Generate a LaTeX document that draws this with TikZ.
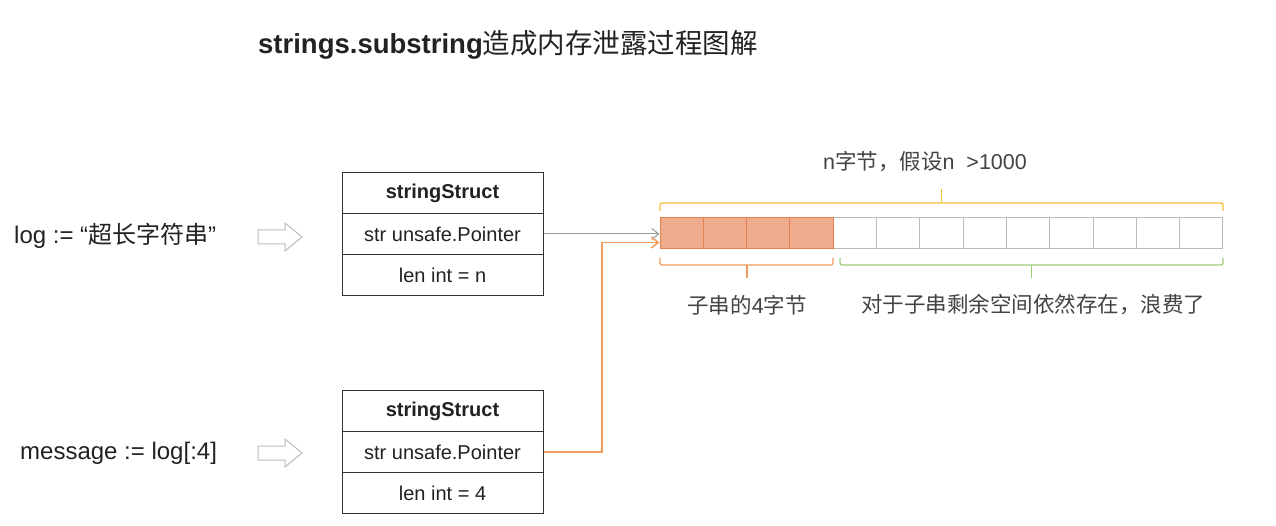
\documentclass[tikz,border=0pt]{standalone}
\usepackage{fontspec}
\setmainfont{Liberation Sans}
\newfontfamily\cjk{Noto Sans CJK SC}
\usetikzlibrary{arrows.meta}
\definecolor{boxline}{HTML}{333333}
\definecolor{txt}{HTML}{222222}
\definecolor{cellgray}{HTML}{BBBBBB}
\definecolor{cellfill}{HTML}{EDAD8C}
\definecolor{celldark}{HTML}{E3824F}
\definecolor{orangeline}{HTML}{F09C5C}
\definecolor{yellowc}{HTML}{F5C038}
\definecolor{greenc}{HTML}{A3CC7A}
\definecolor{hollow}{HTML}{BBBBBB}
\definecolor{grayarrow}{HTML}{999999}
\begin{document}
\begin{tikzpicture}[x=1pt,y=-1pt,
  rowbox/.style={draw=boxline, line width=1pt, minimum width=201pt, minimum height=41pt, inner sep=0pt, text=txt, font=\fontsize{20}{22}\selectfont},
  headbox/.style={rowbox, font=\fontsize{20}{22}\selectfont\bfseries},
  leftlabel/.style={anchor=west, inner sep=0pt, text=txt, font=\fontsize{24}{26}\selectfont},
  cellw/.style={draw=cellgray, line width=1pt, fill=white, minimum width=43.3pt, minimum height=31pt, inner sep=0pt},
  cello/.style={draw=celldark, line width=1pt, fill=cellfill, minimum width=43.3pt, minimum height=31pt, inner sep=0pt},
  bracelabel/.style={inner sep=0pt, text=txt!85, font=\fontsize{21.5}{23}\selectfont},
  hollowarrow/.style={draw=hollow, line width=1pt, fill=white},
  bracket/.style={line width=1.3pt, rounded corners=2pt},
  bracetick/.style={line width=1.5pt}
]
\useasboundingbox (0,0) rectangle (1276,526);
\fill[white] (0,0) rectangle (1276,526);

% title
\node[anchor=west, inner sep=0pt, text=txt] (title) at (258,45)
  {\fontsize{27.5}{30}\selectfont\textbf{strings.substring}{\cjk 造成内存泄露过程图解}};

% left labels
\node[leftlabel] (log) at (14,236) {log := “{\cjk 超长字符串}”};
\node[leftlabel] (msg) at (20,453) {message := log[:4]};

% hollow arrows
\draw[hollowarrow] (258,230) -- (285,230) -- (285,223) -- (302,237) -- (285,251) -- (285,244) -- (258,244) -- cycle;
\draw[hollowarrow] (258,446) -- (285,446) -- (285,439) -- (302,453) -- (285,467) -- (285,460) -- (258,460) -- cycle;

% struct boxes
\node[headbox] (s1h) at (442.5,193) {stringStruct};
\node[rowbox] (s1p) at (442.5,234) {str unsafe.Pointer};
\node[rowbox] (s1l) at (442.5,275) {len int = n};

\node[headbox] (s2h) at (442.5,411) {stringStruct};
\node[rowbox] (s2p) at (442.5,452) {str unsafe.Pointer};
\node[rowbox] (s2l) at (442.5,493) {len int = 4};

% memory cells
\foreach \i in {4,...,12} {
  \node[cellw] (c\i) at ({681.65+43.3*\i},233.5) {};
}
\foreach \i in {0,...,3} {
  \node[cello] (c\i) at ({681.65+43.3*\i},233.5) {};
}

% top bracket
\draw[bracket, yellowc] (660,211) -- (660,203) -- (1223,203) -- (1223,211);
\draw[bracetick, yellowc] (941.5,203) -- (941.5,189);
\node[bracelabel] (toplab) at (925,162) {n{\cjk 字节，假设}n\ \ >1000};

% bottom brackets
\draw[bracket, orangeline] (660,258) -- (660,265) -- (833,265) -- (833,258);
\draw[bracetick, orangeline] (747,265) -- (747,278);
\node[bracelabel] (sublab) at (747,305) {{\cjk 子串的}4{\cjk 字节}};

\draw[bracket, greenc] (840,258) -- (840,265) -- (1223,265) -- (1223,258);
\draw[bracetick, greenc] (1031.5,265) -- (1031.5,278);
\node[bracelabel] (restlab) at (1033,305) {\cjk 对于子串剩余空间依然存在，浪费了};

% connectors
\coordinate (gin) at (s1p.east -| c0.west);
\coordinate (oin) at ([yshift=-9pt]c0.west);
\coordinate (obend) at (602,0);
\draw[grayarrow, line width=1pt, -{Straight Barb[length=7pt,width=11pt]}] (s1p.east) -- (gin);
\draw[orangeline, line width=1.5pt, -{Straight Barb[length=7pt,width=11pt]}] (s2p.east) -| (obend |- oin) -- (oin);
\end{tikzpicture}
\end{document}
